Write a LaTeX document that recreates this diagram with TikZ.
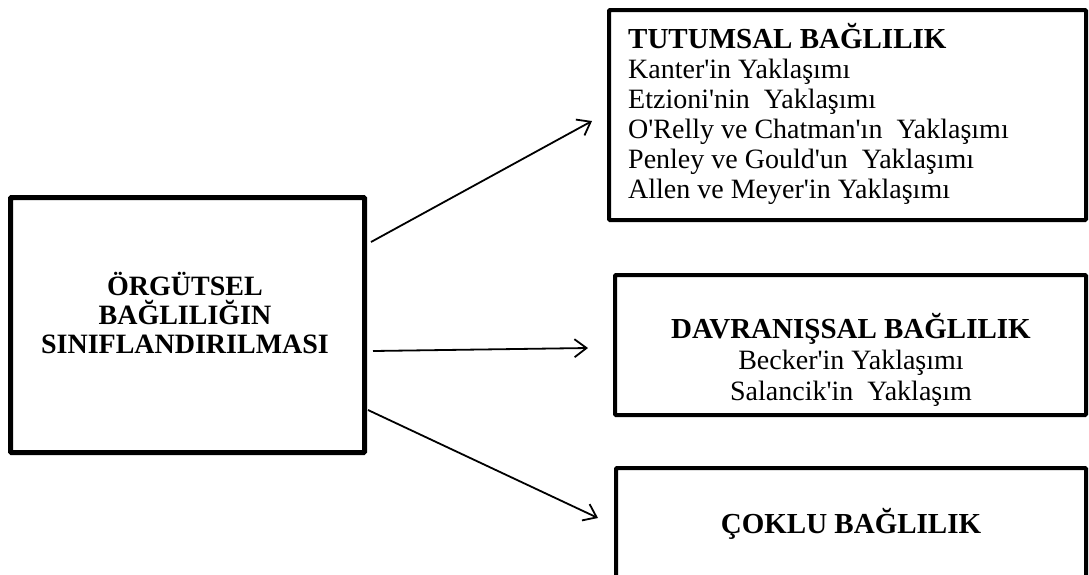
\documentclass[tikz,border=0pt]{standalone}
\usepackage{fontspec}
\setmainfont{Liberation Serif}[Ligatures=TeXOff]
\usetikzlibrary{arrows.meta}
\newcommand{\hd}[1]{{\fontsize{29}{30}\selectfont\bfseries #1}}
\begin{document}
\begin{tikzpicture}[x=1pt,y=-1pt,
  box/.style={draw=black, line width=4pt, inner sep=0pt, rounded corners=1pt},
  txt/.style={inner sep=0pt, font=\fontsize{28}{30}\selectfont},
  arr/.style={line width=1.8pt, -{Straight Barb[length=12pt,width=18pt]}}]
\useasboundingbox (0,0) rectangle (1089,574);

% classification box on the left (text anchored on its last baseline)
\node[box, line width=5pt, minimum width=354pt, minimum height=255pt] (root) at (187.5,325) {};
\node[txt, anchor=base, align=center, font=\fontsize{28}{29}\selectfont\bfseries] (roottext) at (185,353)
  {ÖRGÜTSEL\\BAĞLILIĞIN\\SINIFLANDIRILMASI};

% attitudinal commitment
\node[box, minimum width=477pt, minimum height=210pt] (tut) at (847.5,115) {};
\node[txt, anchor=base west, align=left] (tuttext) at (628,198)
  {\hd{TUTUMSAL BAĞLILIK}\\
   Kanter'in Yaklaşımı\\
   Etzioni'nin\ \ Yaklaşımı\\
   O'Relly ve Chatman'ın\ \ Yaklaşımı\\
   Penley ve Gould'un\ \ Yaklaşımı\\
   Allen ve Meyer'in Yaklaşımı};

% behavioural commitment
\node[box, minimum width=471pt, minimum height=140pt] (dav) at (850.5,345) {};
\node[txt, anchor=base, align=center, font=\fontsize{28}{31}\selectfont] (davtext) at (851,400)
  {\hd{DAVRANIŞSAL BAĞLILIK}\\
   Becker'in Yaklaşımı\\
   Salancik'in\ \ Yaklaşım};

% multiple commitment
\node[box, minimum width=470pt, minimum height=150pt] (cok) at (851,543) {};
\node[txt, anchor=base] (coktext) at (851,533) {\hd{ÇOKLU BAĞLILIK}};

% connectors
\draw[arr] ([shift={(4,-83)}]root.east) -- ([shift={(-15,6)}]tut.west);
\draw[arr] ([shift={(6,26)}]root.east) -- ([shift={(-25,3)}]dav.west);
\draw[arr] ([shift={(1,85)}]root.east) -- ([shift={(-16,-25)}]cok.west);
\end{tikzpicture}
\end{document}
